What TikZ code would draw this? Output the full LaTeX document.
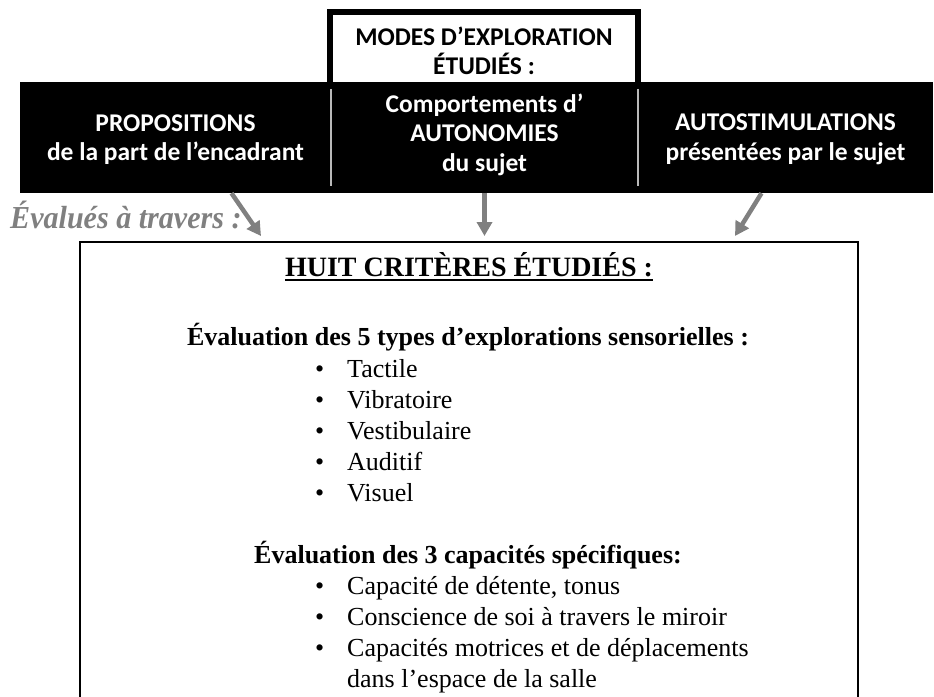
\documentclass[tikz,border=0pt]{standalone}
\usepackage{fontspec}
\setmainfont{Liberation Serif}
\newfontfamily\calibri{Carlito}
\usetikzlibrary{positioning,arrows.meta}

\definecolor{grisfleche}{RGB}{128,128,128}
\definecolor{trait}{RGB}{185,185,185}

\tikzset{
  colonne/.style={fill=black, minimum width=#1, minimum height=111pt, inner sep=0pt},
  entete/.style={text=white, inner sep=0pt, align=center,
    font=\calibri\bfseries\fontsize{25.5}{29.5}\selectfont},
  fleche/.style={draw=grisfleche, line width=4.5pt, -{Triangle[length=14pt,width=15pt]}},
  ligne/.style={anchor=base west, inner sep=0pt, font=\fontsize{26}{31}\selectfont},
  soustitre/.style={anchor=base, inner sep=0pt, font=\bfseries\fontsize{26}{31}\selectfont},
}

\begin{document}
\begin{tikzpicture}[x=1pt,y=-1pt]
  \useasboundingbox (0,0) rectangle (934,696);

  % cadre du haut
  \node[draw, line width=6pt, fill=white, minimum width=308pt, minimum height=78pt,
    inner sep=0pt, align=center, font=\calibri\bfseries\fontsize{25.5}{29}\selectfont]
    (modes) at (484,51) {MODES D’EXPLORATION\\ÉTUDIÉS :};

  % bandeau noir
  \node[colonne=311pt] (propositions) at (175.5,137.5) {};
  \node[colonne=307pt] (autonomies) at (484.5,137.5) {};
  \node[colonne=295pt] (autostim) at (785.5,137.5) {};
  \node[entete] (propositions-txt) at (propositions.center) [yshift=-2pt] {PROPOSITIONS\\de la part de l’encadrant};
  \node[entete] (autonomies-txt) at (autonomies.center) [yshift=3pt] {Comportements d’\\AUTONOMIES\\du sujet};
  \node[entete] (autostim-txt) at (autostim.center) [yshift=-2pt] {AUTOSTIMULATIONS\\présentées par le sujet};
  \draw[trait, line width=1.5pt] ([yshift=-7pt]autonomies.north west) -- ([yshift=7pt]autonomies.south west);
  \draw[trait, line width=1.5pt] ([yshift=-7pt]autonomies.north east) -- ([yshift=7pt]autonomies.south east);

  % fleches
  \node[anchor=base west, inner sep=0pt, text=grisfleche, xscale=0.94,
    font=\bfseries\itshape\fontsize{32}{36}\selectfont]
    (evalues) at (10,228) {Évalués à travers :};
  \coordinate (fin1) at (261,236);
  \coordinate (fin2) at (484.5,236);
  \coordinate (fin3) at (735,236);
  \draw[fleche] ([xshift=56pt]propositions.south) -- (fin1);
  \draw[fleche] (autonomies.south) -- (fin2);
  \draw[fleche] ([xshift=-24pt]autostim.south) -- (fin3);

  % cadre des criteres
  \node[draw, line width=1.2pt, minimum width=778pt, minimum height=476pt, inner sep=0pt]
    (criteres) at (469,480) {};
  \node[anchor=base, inner sep=0pt, font=\bfseries\fontsize{28}{33}\selectfont]
    (titre) at (469,276) {HUIT CRITÈRES ÉTUDIÉS :};
  \draw[line width=1.5pt] ([yshift=-4pt]titre.base west) -- ([yshift=-4pt]titre.base east);

  \node[soustitre] (sens) at (468,345) {Évaluation des 5 types d’explorations sensorielles :};
  \foreach \t [count=\i] in {Tactile, Vibratoire, Vestibulaire, Auditif, Visuel} {
    \node[ligne] (puce-s\i) at (315,346+31*\i) {•};
    \node[ligne] (sens-\i) at (347,346+31*\i) {\t};
  }

  \node[soustitre] (capac) at (468,563) {Évaluation des 3 capacités spécifiques:};
  \foreach \t [count=\i] in {{Capacité de détente, tonus}, Conscience de soi à travers le miroir,
      Capacités motrices et de déplacements} {
    \node[ligne] (puce-c\i) at (315,563+31*\i) {•};
    \node[ligne] (capac-\i) at (347,563+31*\i) {\t};
  }
  \node[ligne] (capac-4) at (347,687) {dans l’espace de la salle};
\end{tikzpicture}
\end{document}
